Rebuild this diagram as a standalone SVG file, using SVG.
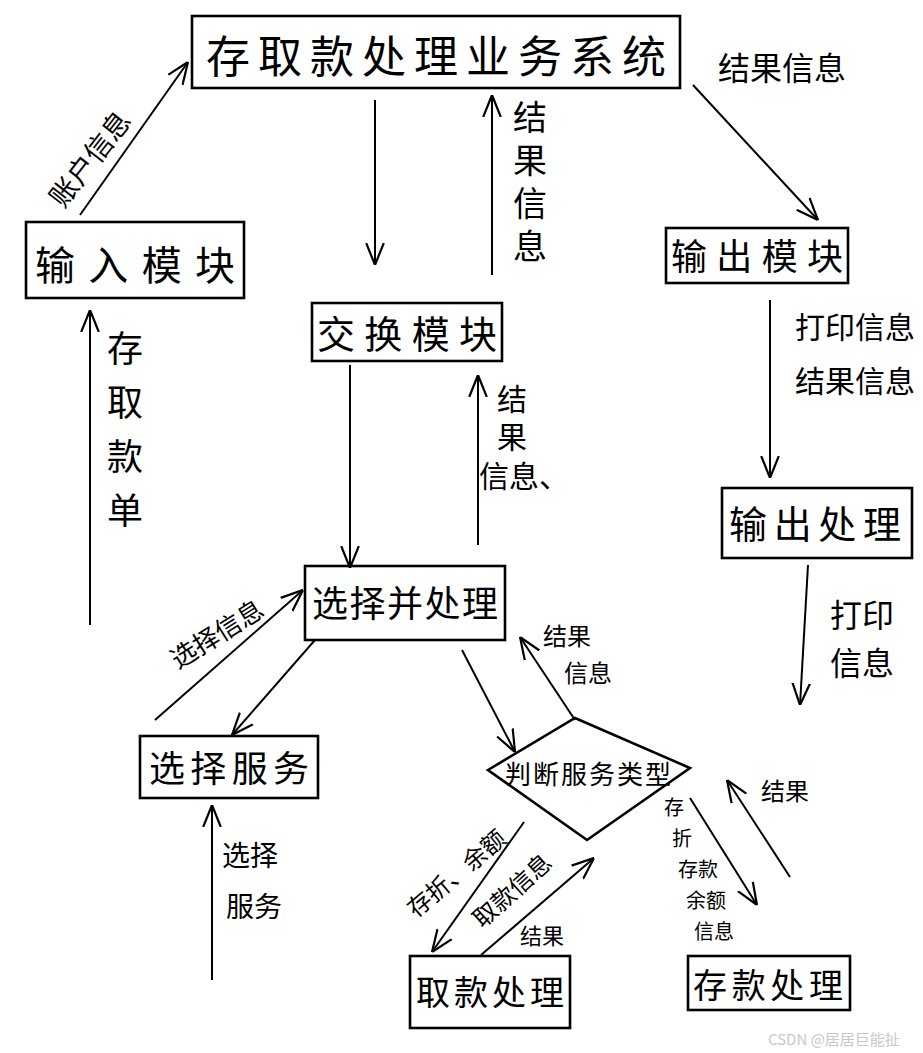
<svg xmlns="http://www.w3.org/2000/svg" width="923" height="1053" viewBox="0 0 923 1053">
<style>
.box{fill:none;stroke:#000;stroke-width:2.6}
.t{font-family:"Noto Sans CJK SC","Liberation Sans",sans-serif;fill:#000;text-anchor:middle;font-weight:400}
.lb{font-family:"Noto Sans CJK SC","Liberation Sans",sans-serif;fill:#000;text-anchor:middle}
.v{writing-mode:vertical-rl;text-orientation:upright}
.c{fill:none;stroke:#000;stroke-width:2;marker-end:url(#ah)}
.wm{font-family:"Noto Sans CJK SC","Liberation Sans",sans-serif;fill:#c8c8c8;font-size:15px}
</style>
<defs>
<marker id="ah" viewBox="0 0 10 10" markerUnits="userSpaceOnUse" markerWidth="22" markerHeight="22" refX="10" refY="5" orient="auto">
<path d="M0,1 L10,5 L0,9" fill="none" stroke="#000" stroke-width="1"/>
</marker>
</defs>
<rect width="923" height="1053" fill="#fff"/>

<g id="system">
<rect class="box" x="192" y="16" width="488" height="72"/>
<text class="t" x="436" y="73" font-size="44" textLength="460" lengthAdjust="spacing">存取款处理业务系统</text>
</g>
<g id="input">
<rect class="box" x="26" y="222" width="218" height="76"/>
<text class="t" x="135" y="280" font-size="40" textLength="200" lengthAdjust="spacing">输入模块</text>
</g>
<g id="exchange">
<rect class="box" x="312" y="303" width="190" height="58"/>
<text class="t" x="407" y="348" font-size="38" textLength="180" lengthAdjust="spacing">交换模块</text>
</g>
<g id="output">
<rect class="box" x="666" y="228" width="182" height="55"/>
<text class="t" x="757" y="270" font-size="36" textLength="172" lengthAdjust="spacing">输出模块</text>
</g>
<g id="outproc">
<rect class="box" x="722" y="488" width="190" height="70"/>
<text class="t" x="815" y="538" font-size="38" textLength="172" lengthAdjust="spacing">输出处理</text>
</g>
<g id="select">
<rect class="box" x="305" y="566" width="200" height="74"/>
<text class="t" x="405" y="617" font-size="36" textLength="186" lengthAdjust="spacing">选择并处理</text>
</g>
<g id="selservice">
<rect class="box" x="140" y="736" width="178" height="62"/>
<text class="t" x="229" y="782" font-size="36" textLength="160" lengthAdjust="spacing">选择服务</text>
</g>
<g id="judge">
<polygon class="box" points="488,770 575,718 690,768 587,840"/>
<text class="t" x="588" y="784" font-size="26" textLength="166" lengthAdjust="spacing">判断服务类型</text>
</g>
<g id="withdraw">
<rect class="box" x="410" y="956" width="160" height="72"/>
<text class="t" x="490" y="1005" font-size="34" textLength="148" lengthAdjust="spacing">取款处理</text>
</g>
<g id="deposit">
<rect class="box" x="688" y="956" width="162" height="54"/>
<text class="t" x="768" y="998" font-size="34" textLength="150" lengthAdjust="spacing">存款处理</text>
</g>

<g id="connectors">
<line class="c" x1="80" y1="215" x2="188" y2="62"/>
<line class="c" x1="375" y1="100" x2="375" y2="265"/>
<line class="c" x1="492" y1="275" x2="492" y2="95"/>
<line class="c" x1="693" y1="85" x2="818" y2="220"/>
<line class="c" x1="90" y1="625" x2="90" y2="310"/>
<line class="c" x1="350" y1="365" x2="350" y2="568"/>
<line class="c" x1="478" y1="545" x2="478" y2="375"/>
<line class="c" x1="770" y1="300" x2="770" y2="478"/>
<line class="c" x1="808" y1="565" x2="800" y2="705"/>
<line class="c" x1="155" y1="720" x2="303" y2="590"/>
<line class="c" x1="315" y1="640" x2="232" y2="735"/>
<line class="c" x1="462" y1="650" x2="515" y2="752"/>
<line class="c" x1="575" y1="720" x2="520" y2="637"/>
<line class="c" x1="212" y1="980" x2="212" y2="805"/>
<line class="c" x1="524" y1="822" x2="432" y2="952"/>
<line class="c" x1="481" y1="955" x2="594" y2="858"/>
<line class="c" x1="690" y1="798" x2="757" y2="905"/>
<line class="c" x1="790" y1="877" x2="727" y2="780"/>
</g>

<g id="labels">
<text class="lb" x="782" y="80" font-size="32">结果信息</text>
<text class="lb" font-size="28" transform="translate(98,165) rotate(-52)">账户信息</text>
<text class="lb v" x="530" y="186" font-size="34" letter-spacing="9">结果信息</text>
<text class="lb v" x="125" y="438" font-size="36" letter-spacing="18">存取款单</text>
<text class="lb v" x="512" y="422" font-size="30" letter-spacing="8">结果</text>
<text class="lb" x="524" y="487" font-size="30">信息、</text>
<text class="lb" x="855" y="338" font-size="30">打印信息</text>
<text class="lb" x="855" y="392" font-size="30">结果信息</text>
<text class="lb" x="862" y="627" font-size="32">打印</text>
<text class="lb" x="862" y="675" font-size="32">信息</text>
<text class="lb" font-size="26" transform="translate(222,642) rotate(-32)">选择信息</text>
<text class="lb" x="567" y="645" font-size="24">结果</text>
<text class="lb" x="588" y="682" font-size="24">信息</text>
<text class="lb" x="250" y="866" font-size="28">选择</text>
<text class="lb" x="254" y="917" font-size="28">服务</text>
<text class="lb" x="785" y="800" font-size="24">结果</text>
<g font-size="20">
<text class="lb" x="674" y="815">存</text>
<text class="lb" x="682" y="846">折</text>
<text class="lb" x="698" y="877">存款</text>
<text class="lb" x="706" y="908">余额</text>
<text class="lb" x="714" y="939">信息</text>
</g>
<text class="lb" font-size="24" transform="translate(462,880) rotate(-40)">存折、余额</text>
<text class="lb" font-size="24" transform="translate(518,897) rotate(-42)">取款信息</text>
<text class="lb" x="542" y="944" font-size="22">结果</text>
</g>
<text class="wm" x="768" y="1045">CSDN @居居巨能扯</text>
</svg>
